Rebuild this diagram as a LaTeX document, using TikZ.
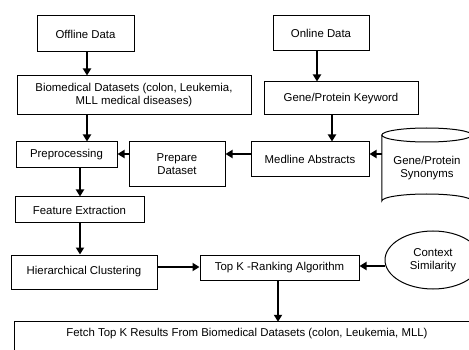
\documentclass[tikz,border=0pt]{standalone}
\usepackage{fontspec}
\setmainfont{Liberation Sans}
\usetikzlibrary{arrows.meta}
\begin{document}
\begin{tikzpicture}[x=1pt,y=-1pt,
  box/.style={draw, line width=1pt, inner sep=1pt, align=center,
    font=\fontsize{11.4}{13}\selectfont},
  lbl/.style={inner sep=1pt, align=center, font=\fontsize{11.4}{13}\selectfont},
  arr/.style={line width=1.8pt, -{Triangle[length=7pt,width=8pt]}},
  outline/.style={line width=1pt}]
\useasboundingbox (0,0) rectangle (469,350);
\clip (0,0) rectangle (469,350);

% boxes of the pipeline
\node[box, minimum width=97, minimum height=36] (off) at (85.5,34) {Offline Data};
\node[box, minimum width=234, minimum height=39] (bio) at (134,95.5)
  {Biomedical Datasets (colon, Leukemia,\\MLL medical diseases)};
\node[box, minimum width=96, minimum height=35] (on) at (321,33.5) {Online Data};
\node[box, minimum width=154, minimum height=33] (gpk) at (341,98.5) {Gene/Protein Keyword};
\node[box, minimum width=118, minimum height=35] (med) at (310,159.5) {Medline Abstracts};
\node[box, minimum width=96, minimum height=45] (prep) at (177,164.5) {Prepare\\Dataset};
\node[box, minimum width=101, minimum height=26] (pre) at (66.5,155) {Preprocessing};
\node[box, minimum width=129, minimum height=26] (fe) at (79.5,210) {Feature Extraction};
\node[box, minimum width=146, minimum height=34] (hc) at (84,272) {Hierarchical Clustering};
\node[box, minimum width=159, minimum height=25] (topk) at (279.5,267.5) {Top K -Ranking Algorithm};

% synonym store drawn as a cylinder
\node[lbl, minimum width=90, minimum height=80] (cyl) at (427,168) {Gene/Protein\\Synonyms};
\draw[outline] (cyl.west |- 0,135) arc[start angle=180, end angle=-180, x radius=45, y radius=7];
\draw[outline] (cyl.west |- 0,135) -- (cyl.west |- 0,201)
  arc[start angle=180, end angle=360, x radius=45, y radius=7] -- (cyl.east |- 0,135);

% context similarity ellipse
\draw[outline] (433,260) ellipse[x radius=48, y radius=29];
\node[lbl] (ctx) at (433,260) {Context\\Similarity};
\coordinate (ctxw) at (385,266);

% final results box, open at the bottom
\node[lbl, minimum width=464, minimum height=24] (fetch) at (247,334)
  {Fetch Top K Results From Biomedical Datasets (colon, Leukemia, MLL)};
\draw[outline] ([yshift=-30]fetch.south west) -- (fetch.north west)
  -- (fetch.north east) -- ([yshift=-30]fetch.south east);

% connectors
\draw[arr] (87,0 |- off.south) -- (87,0 |- bio.north);
\draw[arr] (317,0 |- on.south) -- (317,0 |- gpk.north);
\draw[arr] (332,0 |- gpk.south) -- (332,0 |- med.north);
\draw[arr] (cyl.west |- 0,154) -- (med.east |- 0,154);
\draw[arr] (med.west |- 0,154) -- (prep.east |- 0,154);
\draw[arr] (prep.west |- 0,154) -- (pre.east |- 0,154);
\draw[arr] (87,0 |- bio.south) -- (87,0 |- pre.north);
\draw[arr] (80,0 |- pre.south) -- (80,0 |- fe.north);
\draw[arr] (80,0 |- fe.south) -- (80,0 |- hc.north);
\draw[arr] (hc.east |- 0,267) -- (topk.west |- 0,267);
\draw[arr] (ctxw) -- (topk.east |- ctxw);
\draw[arr] (278,0 |- topk.south) -- (278,0 |- fetch.north);
\end{tikzpicture}
\end{document}
